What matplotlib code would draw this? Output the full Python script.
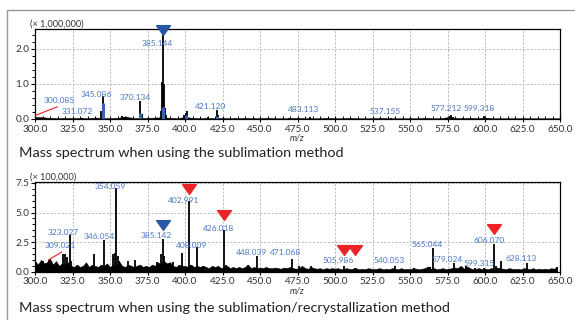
import numpy as np
import matplotlib
matplotlib.use("Agg")
import matplotlib.pyplot as plt
from matplotlib.path import Path
from matplotlib.patches import Rectangle
from matplotlib.ticker import MultipleLocator, FormatStrFormatter
from matplotlib.transforms import offset_copy

plt.rcParams["font.family"] = ["Lato", "DejaVu Sans"]

# ---------- data: sublimation (x 1,000,000) ----------
top_mz = [300.085, 331.072, 343.9, 345.086, 346.1, 358.2, 359.6, 370.134, 371.1,
          384.2, 384.7, 385.144, 385.8, 386.4, 387.2, 399.5, 400.6, 401.3,
          415.0, 421.120, 422.2, 433.0, 446.0, 469.0, 483.113, 537.155,
          576.5, 577.212, 578.4, 585.0, 599.318]
top_h = [0.10, 0.03, 0.22, 0.65, 0.12, 0.08, 0.06, 0.52, 0.15,
         0.22, 1.05, 2.45, 1.00, 0.30, 0.10, 0.12, 0.18, 0.22,
         0.05, 0.25, 0.10, 0.04, 0.04, 0.04, 0.06, 0.03,
         0.08, 0.11, 0.05, 0.03, 0.09]
top_profile_mz = [345.0, 370.1, 385.1, 400.8, 421.1]
top_profile_h = [0.45, 0.18, 0.35, 0.10, 0.08]
top_noise_mz = np.arange(300, 651, 5)
top_noise_h = [0.06, 0.05, 0.03, 0.02, 0.03, 0.02, 0.03, 0.02, 0.04, 0.03,
               0.02, 0.03, 0.07, 0.03, 0.02, 0.03, 0.04, 0.05, 0.03, 0.02,
               0.06, 0.03, 0.02, 0.03, 0.02, 0.03, 0.02, 0.02, 0.03, 0.02,
               0.02, 0.03, 0.02, 0.02, 0.02, 0.03, 0.02, 0.02, 0.02, 0.03,
               0.02, 0.02, 0.03, 0.02, 0.02, 0.02, 0.03, 0.02, 0.02, 0.02,
               0.02, 0.02, 0.03, 0.02, 0.02, 0.05, 0.03, 0.02, 0.03, 0.02,
               0.04, 0.02, 0.02, 0.02, 0.02, 0.02, 0.02, 0.02, 0.02, 0.02,
               0.02]
top_labels = ["300.085", "331.072", "345.086", "370.134", "385.144", "421.120",
              "483.113", "537.155", "577.212", "599.318"]
top_flags = [385.144]

# ---------- data: sublimation/recrystallization (x 100,000) ----------
bot_mz = [305.5, 309.021, 318.4, 320.0, 321.3, 323.027, 324.2, 339.0, 346.054,
          352.2, 353.2, 354.059, 355.0, 356.0, 362.0, 366.5, 381.0, 383.9,
          385.142, 386.0, 392.0, 398.0, 402.991, 404.0, 408.009, 412.0,
          426.018, 427.0, 442.0, 448.039, 471.068, 476.0, 484.0, 505.986,
          513.6, 540.053, 552.5, 563.5, 565.044, 579.024, 583.5, 587.0,
          593.0, 599.315, 606.070, 607.0, 610.5, 628.113, 648.0]
bot_h = [0.9, 1.0, 1.5, 1.5, 1.2, 3.1, 0.9, 1.5, 2.7,
         1.5, 1.6, 7.05, 1.3, 0.9, 0.9, 1.0, 0.8, 1.5,
         2.8, 1.3, 0.8, 1.6, 6.0, 0.6, 2.1, 0.5,
         3.5, 0.6, 0.6, 1.35, 1.1, 0.5, 0.5, 0.5,
         0.35, 0.45, 0.3, 0.4, 2.0, 0.7, 0.4, 0.5,
         0.35, 0.35, 2.3, 0.5, 0.9, 0.7, 0.4]
bot_noise_mz = np.arange(300, 650, 2)
bot_noise_h = [0.9, 0.6, 1.0, 0.7, 0.8, 1.1, 0.6, 0.9, 0.5, 0.7,
               0.6, 0.8, 0.5, 0.4, 0.6, 0.4, 0.5, 0.8, 0.4, 0.6,
               0.5, 0.4, 0.6, 0.5, 0.7, 0.4, 0.6, 0.5, 0.9, 0.5,
               0.4, 0.6, 0.5, 0.4, 0.5, 0.6, 0.4, 0.5, 0.4, 0.6,
               0.5, 0.8, 0.6, 0.9, 0.7, 0.8, 0.5, 0.4, 0.6, 0.5,
               0.5, 0.4, 0.6, 0.4, 0.5, 0.4, 0.5, 0.4, 0.3, 0.5,
               0.4, 0.5, 0.3, 0.4, 0.5, 0.3, 0.4, 0.3, 0.4, 0.3,
               0.4, 0.6, 0.3, 0.4, 0.3, 0.35, 0.3, 0.4, 0.3, 0.3,
               0.35, 0.3, 0.25, 0.35, 0.3, 0.4, 0.3, 0.25, 0.3, 0.5,
               0.3, 0.25, 0.4, 0.3, 0.25, 0.3, 0.2, 0.3, 0.25, 0.3,
               0.25, 0.3, 0.2, 0.25, 0.3, 0.2, 0.25, 0.3, 0.2, 0.25,
               0.2, 0.3, 0.25, 0.2, 0.25, 0.3, 0.2, 0.25, 0.2, 0.3,
               0.25, 0.2, 0.3, 0.2, 0.25, 0.2, 0.3, 0.25, 0.2, 0.25,
               0.3, 0.45, 0.25, 0.3, 0.2, 0.25, 0.3, 0.2, 0.25, 0.3,
               0.35, 0.3, 0.5, 0.25, 0.45, 0.3, 0.2, 0.25, 0.3, 0.2,
               0.25, 0.2, 0.3, 0.25, 0.35, 0.3, 0.25, 0.2, 0.3, 0.25,
               0.2, 0.25, 0.2, 0.3, 0.25, 0.2, 0.3, 0.2, 0.25, 0.2,
               0.25, 0.2, 0.3, 0.25, 0.4]
bot_labels = ["309.021", "323.027", "346.054", "354.059", "385.142", "402.991",
              "408.009", "426.018", "448.039", "471.068", "505.986", "540.053",
              "565.044", "579.024", "599.315", "606.070", "628.113"]
bot_blue_flags = [385.142]
bot_red_flags = [402.991, 426.018, 505.986, 513.6, 606.070]

# ---------- style ----------
LABEL_BLUE = "#4a76c4"
FLAG_BLUE = "#2857a6"
FLAG_RED = "#ec2227"
TEXT = "#333333"
W, H = 575, 320

# label offsets (pixels from peak top: dx right, dy down)
top_label_off = {"300.085": (24, -15), "331.072": (-4, -6), "345.086": (-6, -2),
                 "370.134": (-5, -3), "385.144": (-5, 10), "421.120": (-6, -4),
                 "483.113": (-6, -7), "537.155": (-6, -6), "577.212": (-5, -7),
                 "599.318": (-5, -7)}
bot_label_off = {"309.021": (12, -14), "323.027": (-6, -3), "346.054": (-5, -3),
                 "354.059": (-6, -2), "385.142": (-6, -3), "402.991": (-6, 0),
                 "408.009": (-6, -1), "426.018": (-6, -2), "448.039": (-6, -3),
                 "471.068": (-6, -6), "505.986": (-6, -5), "540.053": (-6, -6),
                 "565.044": (-5, -4), "579.024": (-6, -4), "599.315": (-5, -4),
                 "606.070": (-5, -4), "628.113": (-6, -5)}
leader_labels = {"300.085", "309.021"}

# wide, flat downward triangle
tri = Path([(-1.0, 0.7), (1.0, 0.7), (0.0, -0.7), (-1.0, 0.7)],
           [Path.MOVETO, Path.LINETO, Path.LINETO, Path.CLOSEPOLY])

fig = plt.figure(figsize=(W / 100, H / 100), dpi=100)
fig.patches.append(Rectangle((7 / W, -0.1), 1.2, 1 - 10 / H + 0.1,
                             transform=fig.transFigure, fill=False,
                             edgecolor="#9a9a9a", linewidth=1.0))


def px_to_pt(v):
    return v * 72 / 100


def style_axes(ax, ymax, ymajor, yminor, scale_text):
    ax.set_xlim(300, 650)
    ax.set_ylim(0, ymax)
    ax.xaxis.set_major_locator(MultipleLocator(25))
    ax.xaxis.set_minor_locator(MultipleLocator(5))
    ax.yaxis.set_major_locator(MultipleLocator(ymajor))
    ax.yaxis.set_minor_locator(MultipleLocator(yminor))
    ax.xaxis.set_major_formatter(FormatStrFormatter("%.1f"))
    ax.yaxis.set_major_formatter(FormatStrFormatter("%.1f"))
    ax.tick_params(axis="x", which="major", direction="inout", length=4, width=0.8,
                   labelsize=7.2, labelcolor=TEXT, pad=2)
    ax.tick_params(axis="x", which="minor", direction="in", length=2, width=0.7)
    ax.tick_params(axis="y", which="major", direction="out", length=3, width=0.8,
                   labelsize=7.2, labelcolor=TEXT, pad=1)
    ax.tick_params(axis="y", which="minor", direction="out", length=2, width=0.7)
    ax.grid(True, which="major", color="#b0b0b0", linestyle=(0, (2.5, 2)), linewidth=0.6)
    ax.set_axisbelow(True)
    for s in ax.spines.values():
        s.set_linewidth(0.9)
        s.set_color("black")
    ax.set_xlabel("m/z", fontsize=6.5, style="italic", color=TEXT, labelpad=0)
    ax.text(-0.009, 1.0, scale_text, transform=ax.transAxes, fontsize=6.6,
            color=TEXT, ha="left", va="bottom")


def draw_labels(ax, mzs, hs, labels, offsets):
    lookup = dict(zip([f"{m:.3f}" for m in mzs], hs))
    for lab in labels:
        mz = float(lab)
        h = lookup[lab]
        dx, dy = offsets[lab]
        kw = {}
        if lab in leader_labels:
            kw["arrowprops"] = dict(arrowstyle="-", color=FLAG_RED, lw=0.8,
                                    shrinkA=0, shrinkB=0, relpos=(0.7, 0.05))
        ax.annotate(lab, xy=(mz, h), xytext=(px_to_pt(dx), -px_to_pt(dy)),
                    textcoords="offset points", ha="center", va="center",
                    fontsize=6.0, color=LABEL_BLUE, **kw)


def draw_flags(ax, mzs, hs, flags, color, lift):
    lookup = dict(zip(mzs, hs))
    for f, up in zip(flags, lift):
        tr = offset_copy(ax.transData, fig=fig, x=0, y=px_to_pt(up), units="points")
        ax.plot([f], [lookup[f]], marker=tri, markersize=10, color=color,
                transform=tr, clip_on=False, zorder=5, linestyle="none")


# ---------- top spectrum ----------
ax1 = fig.add_axes([35 / W, 1 - 119 / H, 525 / W, 90 / H])
style_axes(ax1, 2.57, 1.0, 0.2, "(\u00d7 1,000,000)")
ax1.fill_between(top_noise_mz, top_noise_h, color="black", linewidth=0.4, zorder=2)
ax1.vlines(top_mz, 0, top_h, color="black", linewidth=1.3, zorder=3)
ax1.vlines(top_profile_mz, 0, top_profile_h, color="#3c64b4", linewidth=2.2, zorder=4)
draw_labels(ax1, top_mz, top_h, top_labels, top_label_off)
draw_flags(ax1, top_mz, top_h, top_flags, FLAG_BLUE, [3])

# ---------- bottom spectrum ----------
ax2 = fig.add_axes([35 / W, 1 - 271.7 / H, 525 / W, 89.7 / H])
style_axes(ax2, 7.58, 2.5, 0.5, "(\u00d7 100,000)")
ax2.fill_between(bot_noise_mz, bot_noise_h, color="black", linewidth=0.4, zorder=2)
ax2.vlines(bot_mz, 0, bot_h, color="black", linewidth=1.3, zorder=3)
draw_labels(ax2, bot_mz, bot_h, bot_labels, bot_label_off)
draw_flags(ax2, bot_mz, bot_h, bot_blue_flags, FLAG_BLUE, [14])
draw_flags(ax2, bot_mz, bot_h, bot_red_flags, FLAG_RED, [11.5, 15, 16, 18, 15])

# ---------- captions ----------
fig.text(19 / W, 1 - 153 / H, "Mass spectrum when using the sublimation method",
         fontsize=10.4, color="#222222", ha="left", va="center")
fig.text(19 / W, 1 - 308 / H,
         "Mass spectrum when using the sublimation/recrystallization method",
         fontsize=10.4, color="#222222", ha="left", va="center")

fig.savefig("out.png", dpi=100)
